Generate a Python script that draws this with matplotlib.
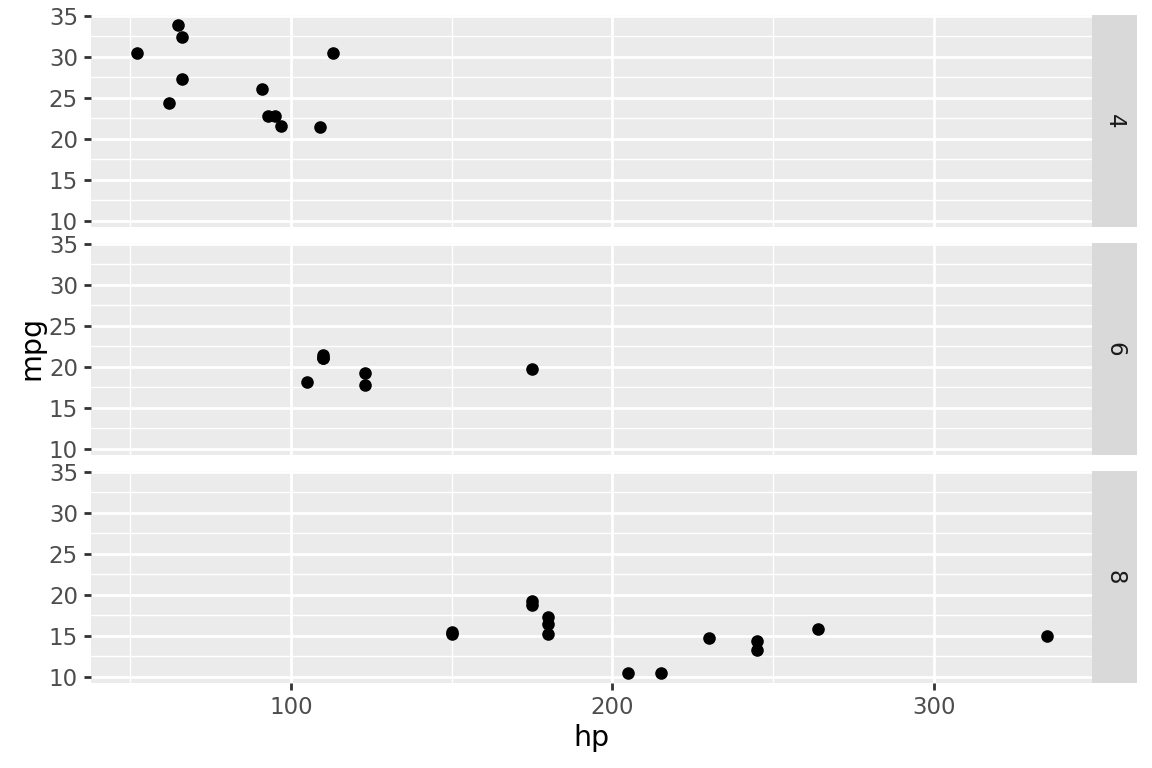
import numpy as np
import matplotlib
matplotlib.use("Agg")
import matplotlib.pyplot as plt

# mtcars: hp, mpg, cyl
hp = [110, 110, 93, 110, 175, 105, 245, 62, 95, 123, 123, 180, 180, 180, 205, 215,
      230, 66, 52, 65, 97, 150, 150, 245, 175, 66, 91, 113, 264, 175, 335, 109]
mpg = [21.0, 21.0, 22.8, 21.4, 18.7, 18.1, 14.3, 24.4, 22.8, 19.2, 17.8, 16.4, 17.3, 15.2, 10.4, 10.4,
       14.7, 32.4, 30.4, 33.9, 21.5, 15.5, 15.2, 13.3, 19.2, 27.3, 26.0, 30.4, 15.8, 19.7, 15.0, 21.4]
cyl = [6, 6, 4, 6, 8, 6, 8, 4, 4, 6, 6, 8, 8, 8, 8, 8,
       8, 4, 4, 4, 4, 8, 8, 8, 8, 4, 4, 4, 8, 6, 8, 4]
panels = [4, 6, 8]
x_ticks = [100, 200, 300]
y_ticks = [10, 15, 20, 25, 30, 35]

hp = np.array(hp); mpg = np.array(mpg); cyl = np.array(cyl)
xr = hp.max() - hp.min(); yr = mpg.max() - mpg.min()
xlim = (hp.min() - 0.05 * xr, hp.max() + 0.05 * xr)
ylim = (mpg.min() - 0.05 * yr, mpg.max() + 0.05 * yr)

W, H = 1152, 768
fig = plt.figure(figsize=(W / 100, H / 100), dpi=100)
fig.patch.set_facecolor("white")

left, right = 91, 1092
strip_w = 45
tops = [15, 243, 471]
ph = 212

for i, (c, top) in enumerate(zip(panels, tops)):
    ax = fig.add_axes([left / W, 1 - (top + ph) / H, (right - left) / W, ph / H])
    ax.set_facecolor("#EBEBEB")
    for s in ax.spines.values():
        s.set_visible(False)
    ax.set_xlim(xlim); ax.set_ylim(ylim)
    ax.set_xticks(x_ticks)
    ax.set_yticks(y_ticks)
    ax.set_xticks([50, 150, 250], minor=True)
    ax.set_yticks([12.5, 17.5, 22.5, 27.5, 32.5], minor=True)
    ax.grid(which="major", color="white", lw=2.0)
    ax.grid(which="minor", color="white", lw=1.0)
    ax.set_axisbelow(True)
    ax.tick_params(which="minor", length=0)
    ax.tick_params(which="major", length=5.2, width=2.0, color="#333333",
                   labelsize=16.5, labelcolor="#4D4D4D", pad=4.2)
    m = cyl == c
    ax.scatter(hp[m], mpg[m], s=82, color="black", zorder=3, linewidths=0)
    if i < 2:
        ax.tick_params(axis="x", bottom=False, labelbottom=False)
    # strip
    sax = fig.add_axes([right / W, 1 - (top + ph) / H, strip_w / W, ph / H])
    sax.set_facecolor("#D9D9D9")
    sax.set_xticks([]); sax.set_yticks([])
    for s in sax.spines.values():
        s.set_visible(False)
    sax.text(0.5, 0.5, str(c), rotation=-90, ha="center", va="center",
             fontsize=16.5, color="#1A1A1A", transform=sax.transAxes)

fig.text((left + right) / 2 / W, 1 - 746 / H, "hp", ha="center", va="baseline", fontsize=20.5)
fig.text(31 / W, 1 - 348 / H, "mpg", rotation=90, ha="center", va="center", fontsize=20.5)

fig.savefig("out.png", dpi=100)
